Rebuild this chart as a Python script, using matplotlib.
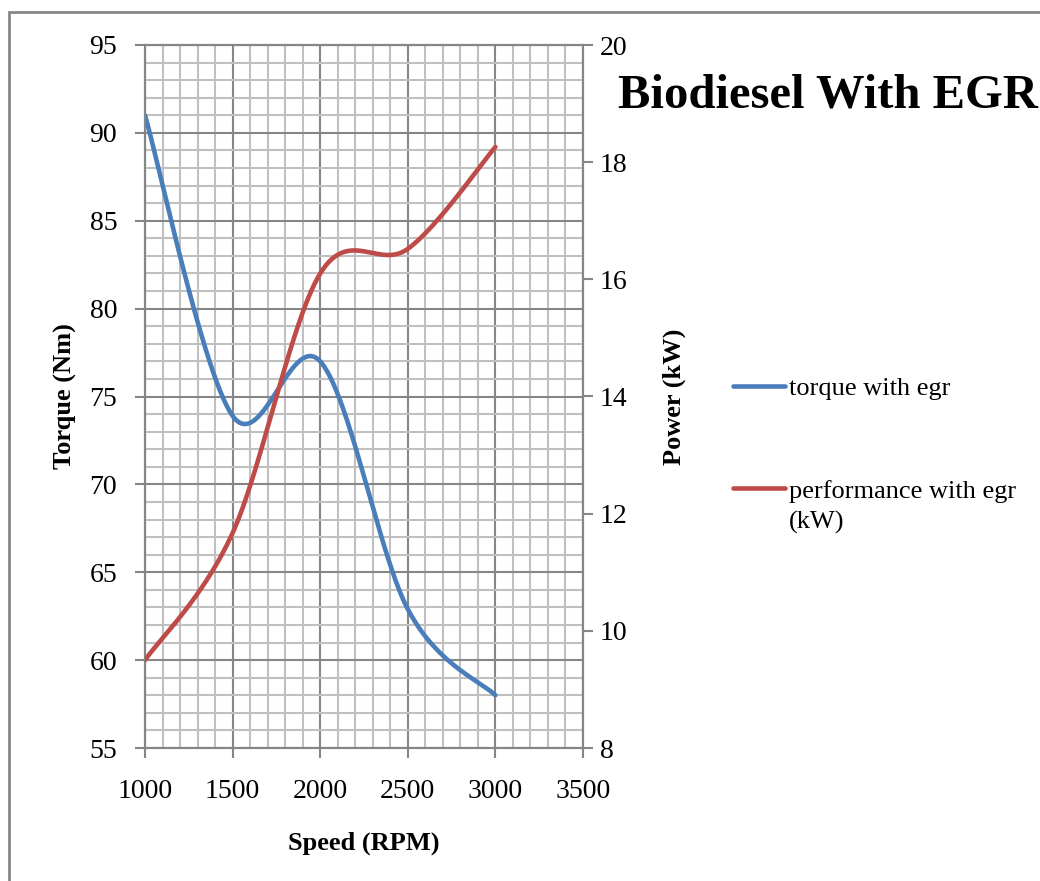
import numpy as np
import matplotlib.pyplot as plt
import matplotlib.patches as patches
from matplotlib.lines import Line2D
from matplotlib.ticker import MultipleLocator

# data
speed = [1000, 1500, 2000, 2500, 3000]
torque = [91.0, 73.9, 77.0, 62.9, 58.0]
power = [9.5, 11.67, 16.1, 16.52, 18.26]


def excel_smooth(xs, ys, n=60):
    # bezier smoothing like excel's "smoothed line"
    pts = np.column_stack([xs, ys]).astype(float)
    p = np.vstack([pts[0], pts, pts[-1]])
    out = []
    for i in range(1, len(p) - 2):
        p0, p3 = p[i], p[i + 1]
        c1 = p0 + (p[i + 1] - p[i - 1]) / 6
        c2 = p3 - (p[i + 2] - p[i]) / 6
        t = np.linspace(0, 1, n)[:, None]
        seg = (1 - t) ** 3 * p0 + 3 * (1 - t) ** 2 * t * c1 + 3 * (1 - t) * t ** 2 * c2 + t ** 3 * p3
        out.append(seg if i == 1 else seg[1:])
    out = np.vstack(out)
    return out[:, 0], out[:, 1]


plt.rcParams['font.family'] = ['Liberation Serif', 'DejaVu Serif']

fig = plt.figure(figsize=(10.4, 8.81), dpi=100)
ax = fig.add_axes([145 / 1040, 1 - 748 / 881, (583 - 145) / 1040, (748 - 45) / 881])
ax2 = ax.twinx()

blue = '#4a7ebb'
red = '#be4b48'

x, y = excel_smooth(speed, torque)
ax.plot(x, y, color=blue, lw=3.3, solid_capstyle='round', zorder=3)
x, y = excel_smooth(speed, power)
ax2.plot(x, y, color=red, lw=3.3, solid_capstyle='round', zorder=3)

ax.set_xlim(1000, 3500)
ax.set_ylim(55, 95)
ax2.set_ylim(8, 20)
ax.xaxis.set_major_locator(MultipleLocator(500))
ax.xaxis.set_minor_locator(MultipleLocator(100))
ax.yaxis.set_major_locator(MultipleLocator(5))
ax.yaxis.set_minor_locator(MultipleLocator(1))
ax2.yaxis.set_major_locator(MultipleLocator(2))

ax.grid(which='minor', color='#c0c0c0', lw=1.5)
ax.grid(which='major', color='#868686', lw=1.5)
ax.set_axisbelow(True)

for a in (ax, ax2):
    for s in a.spines.values():
        s.set_color('#868686')
        s.set_linewidth(1.5)
    a.tick_params(which='major', length=7, width=1.5, color='#868686', labelsize=20)
    a.tick_params(which='minor', length=0)
ax.tick_params(axis='y', pad=13)
ax.tick_params(axis='x', pad=15)
ax2.tick_params(axis='y', pad=5)

ax.set_xlabel('Speed (RPM)', fontsize=19, fontweight='bold', labelpad=20)
ax.set_ylabel('Torque (Nm)', fontsize=19, fontweight='bold', labelpad=9)
ax2.set_ylabel('Power (kW)', fontsize=19, fontweight='bold', labelpad=25.5)

fig.text(828 / 1040, 1 - 95 / 881, 'Biodiesel With EGR', fontsize=35, fontweight='bold',
         ha='center', va='center')

# legend drawn by hand so the red key sits on the first text line
legend_labels = ['torque with egr', 'performance with egr\n(kW)']
legend_colors = [blue, red]
legend_y = [386, 488]
for lab, col, yy in zip(legend_labels, legend_colors, legend_y):
    fy = 1 - yy / 881
    fig.add_artist(Line2D([733 / 1040, 785 / 1040], [fy, fy], color=col, lw=3.3,
                          solid_capstyle='round', transform=fig.transFigure))
    fig.text(789 / 1040, fy + 8 / 881, lab, fontsize=19, ha='left', va='top', linespacing=1.45)

fig.add_artist(patches.Rectangle((9 / 1040, -0.1), 1.2, 1 - 12 / 881 + 0.1, transform=fig.transFigure,
                                 fill=False, edgecolor='#868686', lw=2))

fig.savefig('out.png', dpi=100)
